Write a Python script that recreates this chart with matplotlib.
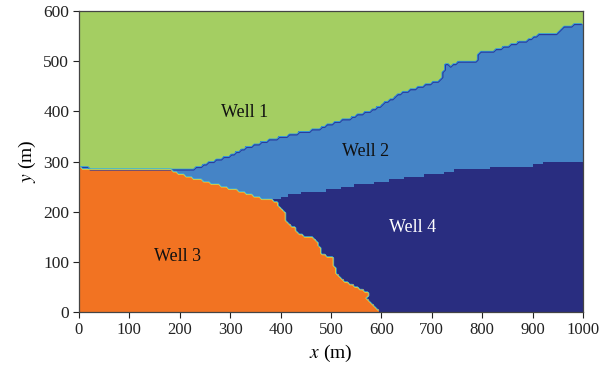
import numpy as np
import matplotlib
matplotlib.use("Agg")
import matplotlib.pyplot as plt
from matplotlib.colors import ListedColormap

# ---- data: region boundaries (m) ----
# lower edge of Well 1 (green) region
top_x = [0, 10, 20, 176, 186, 212, 226, 246, 271, 291, 333, 358, 398, 444, 477, 503,
         537, 576, 600, 622, 641, 671, 699, 721, 724, 738, 760, 788, 794, 814, 834,
         873, 899, 907, 946, 966, 1000]
top_y = [293, 291, 287, 287, 285, 283, 287, 293, 303, 309, 329, 337, 349, 359, 367, 377,
         387, 401, 413, 427, 439, 448, 456, 466, 494, 492, 502, 502, 520, 518, 526,
         538, 546, 552, 556, 570, 576]
# upper edge of Well 3 (orange) region
otop_x = [0, 10, 176, 192, 206, 226, 257, 291, 325, 352, 382, 392, 1000]
otop_y = [291, 285, 285, 279, 273, 267, 259, 249, 239, 229, 223, 280, 280]
# right edge of Well 3 (x as a function of y)
oright_y = [0, 4, 20, 28, 34, 40, 50, 64, 78, 90, 110, 114, 134, 147, 152, 157, 169, 179,
            197, 207, 219, 223, 260]
oright_x = [600, 592, 580, 570, 576, 572, 550, 523, 511, 507, 503, 483, 477, 467, 445, 436,
            428, 412, 408, 402, 392, 382, 380]
# upper edge of Well 4 (navy) region
b24_x = [380, 408, 418, 444, 497, 550, 596, 642, 689, 721, 748, 800, 853, 907, 927, 1000]
b24_y = [223, 229, 233, 239, 243, 253, 259, 267, 273, 277, 283, 287, 289, 293, 299, 299]

labels = ["Well 1", "Well 2", "Well 3", "Well 4"]
label_x = [329, 568, 196, 661]
label_y = [397, 319, 110, 169]
xticks = [0, 100, 200, 300, 400, 500, 600, 700, 800, 900, 1000]
yticks = [0, 100, 200, 300, 400, 500, 600]

colors = ["#A4CE62", "#4584C6", "#F27322", "#292D80"]  # well1, well2, well3, well4

# ---- classification grid ----
cell = 5.0
xe = np.arange(0, 1000 + cell, cell)
ye = np.arange(0, 600 + cell, cell)
xc = 0.5 * (xe[:-1] + xe[1:])
yc = 0.5 * (ye[:-1] + ye[1:])
X, Y = np.meshgrid(xc, yc)

T = np.interp(X, top_x, top_y)
OT = np.interp(X, otop_x, otop_y)
OR = np.interp(Y, oright_y, oright_x)
B = np.interp(X, b24_x, b24_y, left=-1e9)

well = np.full(X.shape, 1)                 # Well 2 by default
well4 = (Y < B)
well[well4] = 3
orange = (Y < OT) & (X < OR)
well[orange] = 2
green = Y >= T
well[green] = 0
orange = orange & ~green

plt.rcParams['font.family'] = ['Liberation Serif', 'DejaVu Serif']
plt.rcParams['mathtext.fontset'] = 'stix'

fig = plt.figure(figsize=(6.0, 3.74), dpi=100)
ax = fig.add_axes([79 / 600, 1 - 312 / 374, 504 / 600, 301 / 374])

cmap = ListedColormap(colors)
ax.pcolormesh(xe, ye, well, cmap=cmap, vmin=-0.5, vmax=3.5, shading='flat')

# thin boundary artefacts
ax.contour(X, Y, green.astype(float), levels=[0.2], colors=['#2B3A9E'], linewidths=1.2)
ax.contour(X, Y, green.astype(float), levels=[0.5], colors=['#34B4E6'], linewidths=0.5)
ax.contour(X, Y, orange.astype(float), levels=[0.7], colors=['#E6DC3A'], linewidths=0.6)
ax.contour(X, Y, orange.astype(float), levels=[0.4], colors=['#3CB8E0'], linewidths=0.5)

for lab, lx, ly, c in zip(labels, label_x, label_y, ['#111111', '#111111', '#111111', 'white']):
    ax.text(lx, ly, lab, ha='center', va='center', fontsize=13, color=c)

ax.set_xlim(0, 1000)
ax.set_ylim(0, 600)
ax.set_xticks(xticks)
ax.set_yticks(yticks)
ax.tick_params(direction='out', length=4, width=0.8, labelsize=12.5, colors='#222222',
               pad=3)
ax.tick_params(axis='x', labelsize=12)
for s in ax.spines.values():
    s.set_color('#444444')
    s.set_linewidth(0.9)
ax.set_xlabel('$x$ (m)', fontsize=14, labelpad=4)
ax.set_ylabel('$y$ (m)', fontsize=14, labelpad=4)

fig.savefig('out.png', dpi=100)
